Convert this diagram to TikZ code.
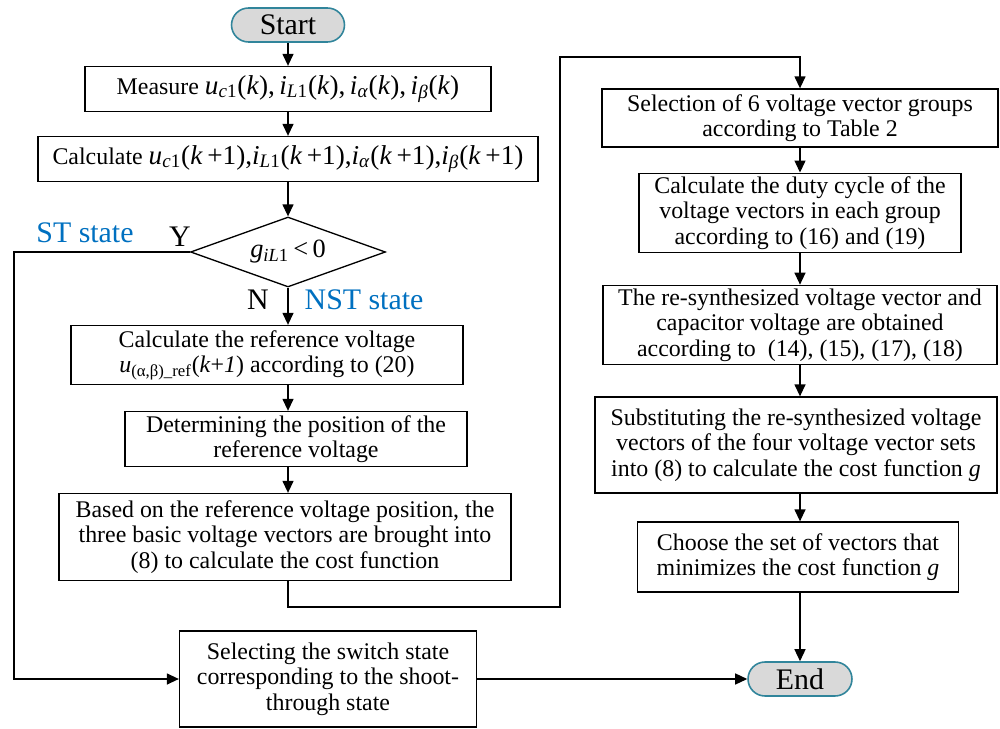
\documentclass[tikz,border=0pt]{standalone}
\usepackage{fontspec}
\setmainfont{Liberation Serif}
\usetikzlibrary{arrows.meta,shapes.geometric}
\definecolor{termline}{RGB}{49,133,155}
\definecolor{termfill}{RGB}{217,217,217}
\definecolor{stateblue}{RGB}{0,112,192}
\newcommand{\vsub}[2]{\textit{#1}\textsubscript{#2}}
\newcommand{\eqfont}{\fontsize{15.5}{16}\selectfont}

\begin{document}
\begin{tikzpicture}[x=0.02cm,y=-0.02cm,
  box/.style={draw, line width=0.75pt, align=center, inner sep=2pt, font=\fontsize{13.6}{14.4}\selectfont},
  term/.style={draw=termline, fill=termfill, line width=0.9pt, rounded corners=0.34cm, minimum height=0.68cm, font=\fontsize{17}{19}\selectfont},
  dec/.style={draw, diamond, aspect=2.8, line width=0.75pt, minimum width=3.9cm, minimum height=1.4cm, inner sep=1pt, font=\fontsize{15}{16}\selectfont},
  lbl/.style={font=\fontsize{17}{19}\selectfont},
  arr/.style={-{Triangle[length=0.24cm,width=0.22cm]}, line width=0.75pt}]
\useasboundingbox (0,0) rectangle (1000,729);

\node[term, minimum width=2.26cm] (start) at (288,25) {Start};
\node[box, minimum width=8.12cm, minimum height=0.9cm] (meas) at (288,89) {Measure {\eqfont\vsub{u}{\textit{c}1}(\textit{k}),\,\vsub{i}{\textit{L}1}(\textit{k}),\,\vsub{i}{\textit{α}}(\textit{k}),\,\vsub{i}{\textit{β}}(\textit{k})}};
\node[box, minimum width=10cm, minimum height=0.9cm] (calc) at (288,159) {Calculate {\eqfont\vsub{u}{\textit{c}1}(\textit{k}\,+1),\vsub{i}{\textit{L}1}(\textit{k}\,+1),\vsub{i}{\textit{α}}(\textit{k}\,+1),\vsub{i}{\textit{β}}(\textit{k}\,+1)}};
\node[dec] (g) at (288,252) {\vsub{g}{\textit{iL}1}\,<\,0};
\node[box, minimum width=7.84cm, minimum height=1.18cm] (ref) at (267,355) {Calculate the reference voltage\\\vsub{u}{(α,β)\_ref}(\textit{k}+\textit{1}) according to (20)};
\node[box, minimum width=6.84cm, minimum height=1.1cm] (det) at (296,439) {Determining the position of the\\reference voltage};
\node[box, minimum width=9.04cm, minimum height=1.74cm] (based) at (285,537) {Based on the reference voltage position, the\\three basic voltage vectors are brought into\\(8) to calculate the cost function};
\node[box, minimum width=5.94cm, minimum height=1.92cm] (swt) at (328,679) {Selecting the switch state\\corresponding to the shoot-\\through state};

\node[box, minimum width=7.92cm, minimum height=1.16cm] (sel) at (800,118) {Selection of 6 voltage vector groups\\according to Table 2};
\node[box, minimum width=6.44cm, minimum height=1.54cm] (duty) at (800,213) {Calculate the duty cycle of the\\voltage vectors in each group\\according to (16) and (19)};
\node[box, minimum width=7.88cm, minimum height=1.54cm] (resyn) at (800,325) {The re-synthesized voltage vector and\\capacitor voltage are obtained\\according to \ (14), (15), (17), (18)};
\node[box, minimum width=8.04cm, minimum height=1.92cm] (subst) at (796,445) {Substituting the re-synthesized voltage\\vectors of the four voltage vector sets\\into (8) to calculate the cost function \textit{g}};
\node[box, minimum width=6.42cm, minimum height=1.4cm] (choose) at (798,557) {Choose the set of vectors that\\minimizes the cost function \textit{g}};
\node[term, minimum width=2.08cm] (fin) at (800,679) {End};

\node[lbl, text=stateblue] (stlbl) at (85,233) {ST state};
\node[lbl] (ylbl) at (180,237) {Y};
\node[lbl] (nlbl) at (258,300) {N};
\node[lbl, text=stateblue] (nstlbl) at (364,300) {NST state};

\coordinate (stc) at (14,252);
\coordinate (loopa) at (560,607);
\coordinate (loopb) at (560,57);

\draw[arr] (start) -- (meas);
\draw[arr] (meas) -- (calc);
\draw[arr] (calc) -- (g);
\draw[arr] (g.south) -- (g.south |- ref.north);
\draw[arr] (ref.south -| g.south) -- (g.south |- det.north);
\draw[arr] (det.south -| g.south) -- (g.south |- based.north);
\draw[arr] (based.south -| g.south) |- (loopa) -- (loopb) -| (sel.north);
\draw[arr] (g.west) -- (stc) |- (swt.west);
\draw[arr] (swt) -- (fin);
\draw[arr] (sel) -- (duty);
\draw[arr] (duty) -- (resyn);
\draw[arr] (resyn) -- (subst.north -| resyn.south);
\draw[arr] (subst.south -| resyn.south) -- (choose.north -| resyn.south);
\draw[arr] (choose.south -| fin.north) -- (fin);
\end{tikzpicture}
\end{document}
